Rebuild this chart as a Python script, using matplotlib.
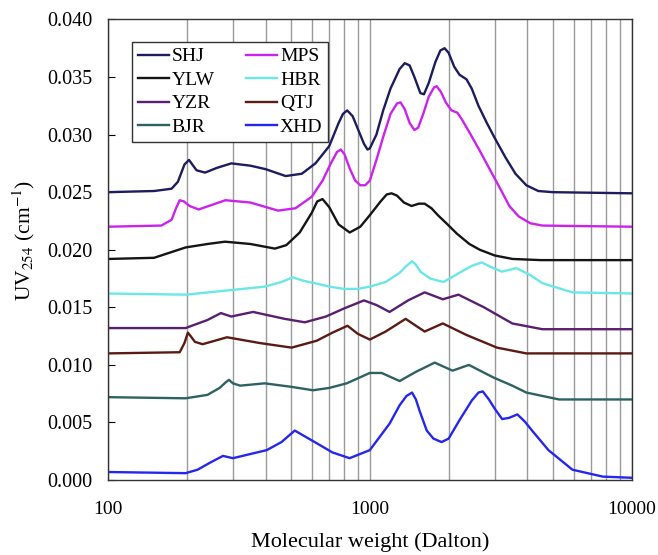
import numpy as np
import matplotlib
matplotlib.use('Agg')
import matplotlib.pyplot as plt
from matplotlib.ticker import FixedLocator, FixedFormatter, LogLocator, NullFormatter

plt.rcParams['font.family'] = 'Liberation Serif'
plt.rcParams['mathtext.fontset'] = 'stix'

# molecular weight (Dalton) / UV254 (cm-1)
shj_x = [100, 150, 175, 185, 196, 204, 210, 218, 235, 260, 296, 350, 400, 477, 550, 620, 700, 760, 790,
         820, 860, 900, 950, 980, 1000, 1060, 1125, 1200, 1300, 1360, 1420, 1480, 1560, 1610, 1680, 1780,
         1860, 1930, 2000, 2100, 2200, 2340, 2450, 2600, 2800, 3000, 3300, 3600, 3960, 4400, 5000, 10000]
shj_y = [.0250, .0251, .0253, .0259, .0274, .0278, .0274, .0269, .0267, .0271, .0275, .0273, .0270, .0264,
         .0266, .0275, .0290, .0310, .0318, .0321, .0316, .0305, .0292, .0287, .0288, .0300, .0321, .0340,
         .0357, .0362, .0360, .0350, .0336, .0335, .0345, .0363, .0373, .0375, .0371, .0359, .0352, .0348,
         .0340, .0325, .0310, .0297, .0280, .0266, .0256, .0251, .0250, .0249]

mps_x = [100, 160, 175, 182, 188, 195, 205, 222, 250, 281, 350, 446, 520, 600, 660, 710, 750, 775, 800,
         840, 880, 920, 960, 1000, 1060, 1125, 1200, 1270, 1310, 1360, 1420, 1480, 1530, 1600, 1680, 1760,
         1800, 1870, 1950, 2050, 2160, 2250, 2400, 2630, 2900, 3200, 3410, 3700, 4100, 4560, 10000]
mps_y = [.0220, .0221, .0226, .0236, .0243, .0242, .0238, .0235, .0239, .0243, .0241, .0234, .0236, .0246,
         .0260, .0275, .0285, .0287, .0283, .0270, .0260, .0256, .0256, .0260, .0278, .0298, .0318, .0327,
         .0328, .0322, .0310, .0304, .0306, .0318, .0333, .0341, .0342, .0337, .0328, .0321, .0319, .0313,
         .0302, .0286, .0268, .0250, .0238, .0229, .0223, .0221, .0220]

ylw_x = [100, 150, 198, 240, 280, 350, 434, 480, 540, 600, 630, 660, 700, 760, 838, 920, 1000, 1100, 1160,
         1211, 1270, 1350, 1443, 1540, 1620, 1720, 1820, 1960, 2150, 2400, 2630, 3000, 3510, 4500, 10000]
ylw_y = [.0192, .0193, .0202, .0205, .0207, .0205, .0201, .0204, .0215, .0232, .0242, .0244, .0237, .0222,
         .0215, .0220, .0230, .0242, .0248, .0249, .0247, .0241, .0238, .0240, .0240, .0236, .0230, .0223,
         .0214, .0205, .0200, .0195, .0192, .0191, .0191]

hbr_x = [100, 198, 296, 398, 460, 508, 560, 615, 700, 797, 900, 1000, 1150, 1300, 1380, 1450, 1500, 1560,
         1700, 1910, 2200, 2450, 2680, 2900, 3190, 3630, 4100, 4560, 5930, 10000]
hbr_y = [.0162, .0161, .0165, .0168, .0172, .0176, .0173, .0171, .0168, .0166, .0166, .0168, .0172, .0180,
         .0186, .0190, .0187, .0181, .0175, .0172, .0180, .0186, .0189, .0185, .0181, .0184, .0178, .0171,
         .0163, .0162]

yzr_x = [100, 198, 240, 270, 296, 358, 473, 565, 680, 797, 950, 1060, 1190, 1400, 1620, 1900, 2180, 2730,
         3500, 4560, 10000]
yzr_y = [.0132, .0132, .0139, .0145, .0142, .0146, .0140, .0137, .0142, .0149, .0156, .0152, .0146, .0156,
         .0163, .0157, .0161, .0150, .0136, .0131, .0131]

qtj_x = [100, 188, 196, 202, 207, 215, 230, 285, 380, 503, 627, 720, 822, 900, 1000, 1150, 1370, 1500,
         1620, 1900, 2340, 3060, 3960, 10000]
qtj_y = [.0110, .0111, .0119, .0128, .0125, .0120, .0118, .0124, .0119, .0115, .0121, .0128, .0134, .0127,
         .0122, .0129, .0140, .0134, .0129, .0136, .0126, .0115, .0110, .0110]

bjr_x = [100, 198, 240, 267, 282, 290, 300, 320, 397, 500, 607, 700, 816, 1000, 1110, 1300, 1500, 1770,
         2070, 2390, 2970, 3500, 3960, 5280, 10000]
bjr_y = [.0072, .0071, .0074, .0080, .0085, .0087, .0084, .0082, .0084, .0081, .0078, .0080, .0084, .0093,
         .0093, .0086, .0094, .0102, .0095, .0100, .0089, .0082, .0076, .0070, .0070]

xhd_x = [100, 198, 220, 245, 275, 300, 404, 460, 517, 627, 720, 837, 1000, 1190, 1300, 1380, 1450, 1500,
         1550, 1650, 1750, 1880, 2000, 2200, 2450, 2600, 2700, 2850, 3000, 3200, 3400, 3660, 3900, 4200,
         4810, 5940, 7760, 10000]
xhd_y = [.0007, .0006, .0009, .0015, .0021, .0019, .0026, .0033, .0043, .0032, .0024, .0019, .0026, .0049,
         .0065, .0073, .0076, .0070, .0060, .0043, .0036, .0033, .0036, .0052, .0069, .0076, .0077, .0070,
         .0062, .0053, .0054, .0057, .0051, .0042, .0026, .0009, .0003, .0002]

series = [('SHJ', shj_x, shj_y, '#1c1c5e'),
          ('YLW', ylw_x, ylw_y, '#151515'),
          ('YZR', yzr_x, yzr_y, '#5a1f70'),
          ('BJR', bjr_x, bjr_y, '#2e6262'),
          ('MPS', mps_x, mps_y, '#cc22ee'),
          ('HBR', hbr_x, hbr_y, '#6ae8e8'),
          ('QTJ', qtj_x, qtj_y, '#5c1a14'),
          ('XHD', xhd_x, xhd_y, '#2626ee')]

fig = plt.figure(figsize=(6.58, 5.55), dpi=100)
ax = fig.add_axes([0.164, 0.135, 0.796, 0.830])

for name, x, y, c in series:
    ax.plot(x, y, color=c, lw=1.7, label=name, solid_joinstyle='round')

ax.set_xscale('log')
ax.set_xlim(100, 10000)
ax.set_ylim(0, 0.040)
ax.xaxis.set_major_locator(FixedLocator([100, 1000, 10000]))
ax.xaxis.set_major_formatter(FixedFormatter(['100', '1000', '10000']))
ax.xaxis.set_minor_locator(LogLocator(base=10, subs=np.arange(2, 10)))
ax.xaxis.set_minor_formatter(NullFormatter())
ax.grid(True, axis='x', which='both', color='#9a9a9a', lw=1.0)
ax.set_axisbelow(True)
ax.set_yticks(np.arange(0, 0.0401, 0.005))
ax.yaxis.set_major_formatter(plt.FormatStrFormatter('%.3f'))
ax.tick_params(axis='x', which='both', length=0, pad=15, labelsize=14)
ax.tick_params(axis='y', direction='in', length=5, labelsize=14.5, pad=11)
for s in ax.spines.values():
    s.set_color('#333333')
    s.set_linewidth(1.0)

ax.set_xlabel('Molecular weight (Dalton)', fontsize=16, labelpad=10)
ax.set_ylabel(r'UV$_{254}$ (cm$^{-1}$)', fontsize=15.5)
ax.yaxis.set_label_coords(-0.135, 0.521)

leg = ax.legend(loc='upper left', bbox_to_anchor=(0.046, 0.951), ncol=2, fontsize=14,
                fancybox=False, framealpha=1, edgecolor='#333333', handlelength=1.6,
                handletextpad=0.15, columnspacing=1.6, labelspacing=0.3, borderpad=0.3,
                borderaxespad=0)
leg.get_frame().set_linewidth(1.0)

fig.savefig('out.png', dpi=100)
